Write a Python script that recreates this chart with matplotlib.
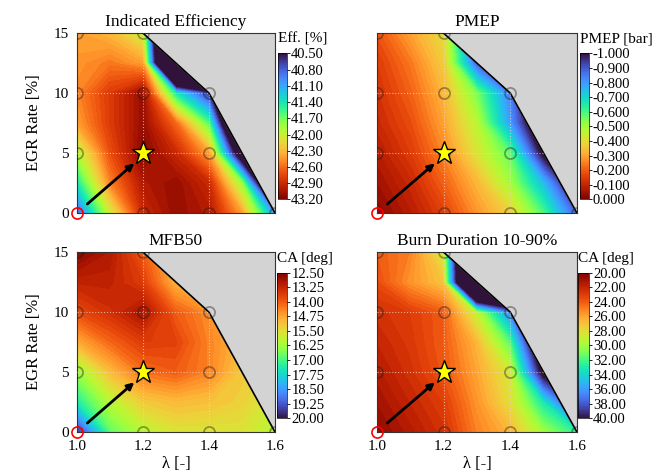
import numpy as np
import matplotlib
matplotlib.use('Agg')
import matplotlib.pyplot as plt
from matplotlib.colors import Normalize
from matplotlib.cm import ScalarMappable

plt.rcParams['font.family'] = ['Liberation Serif', 'DejaVu Serif']

# grid of the maps: lambda (columns) and EGR rate (rows)
lam = [1.0, 1.1, 1.2, 1.3, 1.4, 1.5, 1.6]
egr = [0, 2.5, 5, 7.5, 10, 12.5, 15]

# limit of the operating range (above it the map is grey)
edge_lam = [1.2, 1.4, 1.6]
edge_egr = [15, 10, 0]

# measured operating points
pts_lam = [1.0, 1.2, 1.4, 1.6, 1.0, 1.2, 1.4, 1.0, 1.2, 1.4, 1.0, 1.2]
pts_egr = [0, 0, 0, 0, 5, 5, 5, 10, 10, 10, 15, 15]
base_pt = (1.0, 0)
best_pt = (1.2, 5)

# map values, rows = EGR 0 ... 15, columns = lambda 1.0 ... 1.6
eff = [
    [40.8, 42.0, 42.9, 43.1, 43.0, 42.4, 41.0],
    [41.4, 42.5, 43.0, 43.1, 42.9, 41.8, 39.0],
    [41.9, 42.7, 43.15, 42.9, 42.4, 39.9, 38.0],
    [42.4, 42.8, 43.1, 42.6, 41.6, 38.5, 38.0],
    [42.5, 42.8, 43.1, 41.4, 40.6, 38.0, 38.0],
    [42.45, 42.55, 42.4, 37.0, 37.0, 37.0, 37.0],
    [42.4, 42.3, 42.0, 37.0, 37.0, 37.0, 37.0],
]
pmep = [
    [-0.02, -0.08, -0.16, -0.28, -0.38, -0.60, -0.90],
    [-0.05, -0.11, -0.21, -0.33, -0.50, -0.75, -1.10],
    [-0.08, -0.15, -0.26, -0.42, -0.58, -1.05, -1.20],
    [-0.11, -0.18, -0.30, -0.47, -0.80, -1.20, -1.20],
    [-0.13, -0.21, -0.33, -0.55, -0.85, -1.20, -1.20],
    [-0.15, -0.24, -0.37, -0.90, -1.10, -1.20, -1.20],
    [-0.19, -0.30, -0.40, -1.00, -1.20, -1.20, -1.20],
]
mfb50 = [
    [19.6, 16.8, 16.0, 15.6, 15.6, 15.6, 16.0],
    [17.3, 16.0, 15.2, 15.0, 15.1, 15.3, 15.8],
    [16.3, 15.0, 14.2, 14.0, 14.4, 15.2, 15.5],
    [14.8, 14.1, 13.6, 13.7, 14.4, 15.0, 15.5],
    [13.8, 13.4, 12.9, 14.0, 14.5, 15.0, 15.5],
    [13.2, 13.2, 13.6, 14.9, 15.0, 15.0, 15.5],
    [12.6, 13.0, 14.0, 15.0, 15.0, 15.0, 15.5],
]
burn = [
    [20.5, 21.5, 22.5, 25.0, 26.5, 30.0, 32.5],
    [21.0, 22.0, 23.0, 25.5, 28.0, 33.0, 40.0],
    [21.5, 22.5, 23.8, 26.0, 28.5, 41.0, 45.0],
    [22.0, 22.8, 24.0, 26.5, 31.5, 45.0, 45.0],
    [22.5, 23.0, 24.0, 29.0, 36.5, 45.0, 45.0],
    [23.5, 25.5, 27.0, 60.0, 60.0, 60.0, 60.0],
    [24.0, 25.0, 28.5, 60.0, 60.0, 60.0, 60.0],
]

eff_ticks = [40.5, 40.8, 41.1, 41.4, 41.7, 42.0, 42.3, 42.6, 42.9, 43.2]
pmep_ticks = [-1.0, -0.9, -0.8, -0.7, -0.6, -0.5, -0.4, -0.3, -0.2, -0.1, 0.0]
mfb_ticks = [12.5, 13.25, 14.0, 14.75, 15.5, 16.25, 17.0, 17.75, 18.5, 19.25, 20.0]
burn_ticks = [20, 22, 24, 26, 28, 30, 32, 34, 36, 38, 40]

panels = [
    ('Indicated Efficiency', eff, 'Eff. [%]', 40.5, 43.2, 'turbo', eff_ticks, '%.2f'),
    ('PMEP', pmep, 'PMEP [bar]', -1.0, 0.0, 'turbo', pmep_ticks, '%.3f'),
    ('MFB50', mfb50, 'CA [deg]', 12.5, 20.0, 'turbo_r', mfb_ticks, '%.2f'),
    ('Burn Duration 10-90%', burn, 'CA [deg]', 20.0, 40.0, 'turbo_r', burn_ticks, '%.2f'),
]

fig = plt.figure(figsize=(6.61, 4.72), dpi=100)
ax_pos = [[0.1165, 0.5487, 0.2995, 0.381], [0.5703, 0.5487, 0.3025, 0.381],
          [0.1165, 0.0847, 0.2995, 0.381], [0.5703, 0.0847, 0.3025, 0.381]]
cb_pos = [[0.4205, 0.5777, 0.0136, 0.309], [0.8775, 0.5777, 0.0130, 0.309],
          [0.4195, 0.1138, 0.0150, 0.3087], [0.8750, 0.1138, 0.0160, 0.3087]]

L, E = np.meshgrid(lam, egr)
for i, (title, vals, cblabel, vmin, vmax, cmap, ticks, fmt) in enumerate(panels):
    ax = fig.add_axes(ax_pos[i])
    levels = np.linspace(vmin, vmax, 61)
    ax.contourf(L, E, np.array(vals), levels=levels, cmap=cmap, extend='both')

    # grey area outside the operating range
    ax.fill(edge_lam + [1.6], edge_egr + [15], color='#d3d3d3', zorder=2)
    ax.plot(edge_lam, edge_egr, color='black', lw=1.2, zorder=3)

    # dotted guide lines through the measured points
    for y in [5, 10]:
        ax.plot([1.0, np.interp(y, edge_egr[::-1], edge_lam[::-1])], [y, y],
                ls=':', color='#f0d8d0', lw=0.8, alpha=0.7, zorder=3)
    ax.plot([1.2, 1.2], [0, 15], ls=':', color='#f0d8d0', lw=0.8, alpha=0.7, zorder=3)
    ax.plot([1.4, 1.4], [0, 10], ls=':', color='#f0d8d0', lw=0.8, alpha=0.7, zorder=3)

    ax.plot(pts_lam, pts_egr, 'o', ms=8, mfc='none', mec=(0.1, 0.1, 0.1, 0.4),
            mew=1.3, zorder=4)
    ax.plot(*base_pt, 'o', ms=8, mfc='none', mec='red', mew=1.2, clip_on=False, zorder=5)
    ax.annotate('', xy=(1.18, 4.3), xytext=(1.025, 0.6),
                arrowprops=dict(arrowstyle='-|>', color='black', lw=2, mutation_scale=10),
                zorder=5)
    ax.plot(*best_pt, '*', ms=17, mfc='#ffff00', mec='black', mew=1, zorder=6)

    ax.set_xlim(1.0, 1.6)
    ax.set_ylim(0, 15)
    ax.set_xticks([1.0, 1.2, 1.4, 1.6])
    ax.set_yticks([0, 5, 10, 15])
    ax.tick_params(length=0, labelsize=11, pad=6)
    for s in ax.spines.values():
        s.set_linewidth(0.8)
        s.set_color('#333333')
    ax.set_title(title, fontsize=12.5, pad=5)
    if i >= 2:
        ax.set_xticklabels(['1.0', '1.2', '1.4', '1.6'])
        ax.set_xlabel('λ [-]', fontsize=12, labelpad=2)
    else:
        ax.set_xticklabels([])
    if i % 2 == 0:
        ax.set_ylabel('EGR Rate [%]', fontsize=12, labelpad=8)
    else:
        ax.set_yticklabels([])

    cax = fig.add_axes(cb_pos[i])
    sm = ScalarMappable(norm=Normalize(vmin, vmax), cmap=cmap)
    cb = fig.colorbar(sm, cax=cax, ticks=ticks, format=fmt)
    cax.invert_yaxis()
    cax.tick_params(length=2, width=0.6, labelsize=10.5, pad=1)
    cb.outline.set_linewidth(0.5)
    cax.text(0, 1.055, cblabel, transform=cax.transAxes, ha='left', va='bottom', fontsize=11)

fig.savefig('out.png', dpi=100)
